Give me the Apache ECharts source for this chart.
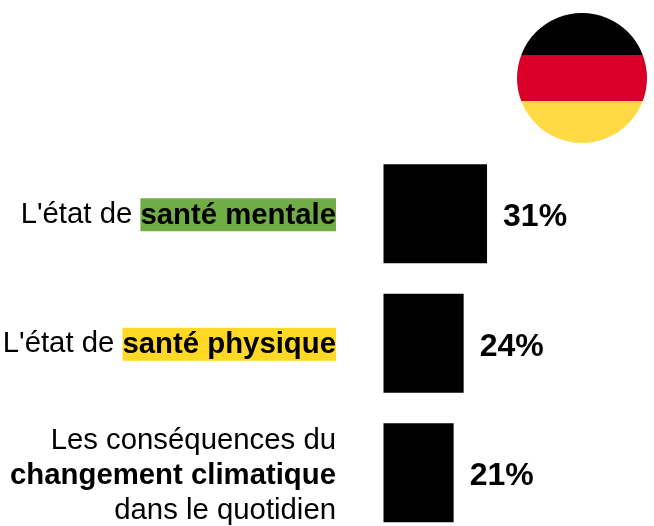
<!DOCTYPE html>
<html><head><meta charset="utf-8">
<style>html,body{margin:0;padding:0;background:#fff}#c{width:654px;height:526px}</style>
<script src="https://cdn.jsdelivr.net/npm/echarts@6/dist/echarts.min.js"></script></head>
<body><div id="c"></div>
<script>
const categories = ["L'état de santé mentale", "L'état de santé physique", "Les conséquences du changement climatique dans le quotidien"];
const categoryLabels = [
  "{n|L'état de }{g|santé mentale}",
  "{n|L'état de }{y|santé physique}",
  "{s| }\n{n|Les conséquences du}\n{b|changement climatique}\n{n|dans le quotidien}"
];
const values = [31, 24, 21];
const chart = echarts.init(document.getElementById('c'), null, {renderer:'canvas'});
const F = '"Liberation Sans", Arial, sans-serif';
const S = 29.33;
chart.setOption({
  animation:false,
  backgroundColor:'#fff',
  grid:{left:383.5, top:149, width:267.2, height:388.5, containLabel:false, outerBoundsMode:'none'},
  xAxis:{type:'value', min:0, max:80, show:false},
  yAxis:{type:'category', inverse:true, data:categories,
    axisLine:{show:false}, axisTick:{show:false},
    axisLabel:{margin:47.5, align:'right', verticalAlign:'middle', interval:0, hideOverlap:false, padding:[2,0,0,0],
      formatter:(v,i)=>categoryLabels[i],
      rich:{
        s:{fontSize:1,lineHeight:5},
        n:{fontFamily:F,fontSize:S,color:'#000',lineHeight:35},
        b:{fontFamily:F,fontSize:S,fontWeight:'bold',color:'#000',lineHeight:35},
        g:{fontFamily:F,fontSize:S,fontWeight:'bold',color:'#000',backgroundColor:'#70AD47',height:31,lineHeight:33,padding:[2,0,0,0]},
        y:{fontFamily:F,fontSize:S,fontWeight:'bold',color:'#000',backgroundColor:'#FFD923',height:31,lineHeight:33,padding:[2,0,0,0]}
      }}},
  series:[{type:'bar', data:values, barWidth:99, itemStyle:{color:'#000'},
    label:{show:true, position:'right', distance:16, offset:[0,3.5], formatter:'{c}%',
      fontFamily:F, fontSize:32, fontWeight:'bold', color:'#000'}}],
  graphic:[{type:'circle', shape:{cx:582, cy:78, r:65}, silent:true,
    style:{fill:{type:'linear',x:0,y:0,x2:0,y2:1,colorStops:[
      {offset:0,color:'#000'},{offset:0.323,color:'#000'},
      {offset:0.323,color:'#D80027'},{offset:0.677,color:'#D80027'},
      {offset:0.677,color:'#FFDA44'},{offset:1,color:'#FFDA44'}]}}}]
});
</script></body></html>
